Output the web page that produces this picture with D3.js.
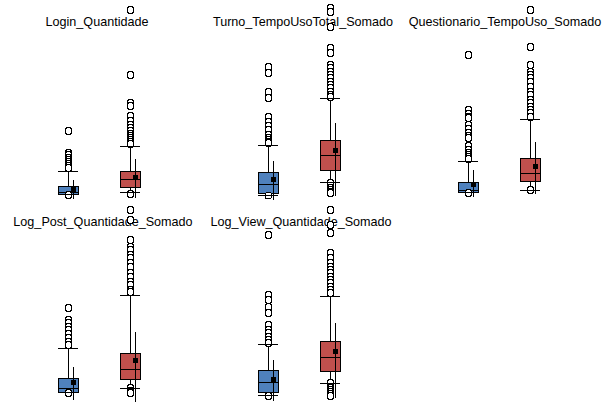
<!DOCTYPE html>
<html><head><meta charset="utf-8">
<script src="https://cdn.jsdelivr.net/npm/d3@7"></script>
<style>
html,body{margin:0;padding:0;background:#fff;}
svg{display:block;}
text{font-family:"Liberation Sans",Arial,sans-serif;font-size:12.6px;fill:#000;}
</style></head>
<body>
<svg id="chart" width="606" height="408"></svg>
<script>
// ---- data (value units, common scale 0..370 per panel) ----
const variables = ["Login_Quantidade","Turno_TempoUsoTotal_Somado","Questionario_TempoUso_Somado","Log_Post_Quantidade_Somado","Log_View_Quantidade_Somado"];
const groups = ["0","1"];
const groupColors = ["#4F81BD","#C0504D"];
// per variable, per group: [whiskerLow, q1, median, q3, whiskerHigh]
const boxStats = [
  [[2,2,6,18,48],[6,16,32,48,98]],
  [[0,4,22,46,100],[26,50,80,110,194]],
  [[6,6,10,26,68],[10,28,44,74,152]],
  [[6,6,14,34,94],[14,32,52,84,200]],
  [[0,6,26,50,102],[24,48,76,108,198]]
];
// per variable, per group: [mean, meanMinusSD, meanPlusSD]
const meanStats = [
  [[12,-8,30],[36,-6,72]],
  [[32,-10,68],[90,-2,144]],
  [[22,-4,50],[58,2,106]],
  [[26,-10,56],[70,-14,126]],
  [[32,-12,70],[88,-6,144]]
];
const outliers = [
  [[0,128,84,80,74,70,66,62,58,54],
   [2,370,240,184,178,158,148,140,134,128,122,118,114,110,106,102]],
  [[-1,256,244,206,194,156,146,138,130,120,114,110,106,104],
   [374,366,336,294,284,260,254,246,240,234,226,220,214,206,200,196,24,14,10,6,4]],
  [[4,280,170,162,156,154,140,132,124,118,114,98,90,84,80,76,72],
   [10,370,296,260,246,240,234,226,216,206,200,190,184,176,170,164,156]],
  [[4,174,150,144,136,130,122,114,106,100],
   [14,8,4,370,350,310,296,290,280,274,264,256,244,236,226,220,210,206]],
  [[-2,320,200,190,176,164,140,130,124,116,110,104],
   [24,14,10,6,2,-2,370,340,324,284,274,264,256,250,244,236,230,224,216,210,204]]
];
const valueDomain = [0,370];

// ---- layout ----
const svg = d3.select("#chart");
const panelW = 200, ncol = 3;
const rows = [{top:10,bottom:195,titleY:26},{top:210,bottom:395,titleY:226}];
const titleShift = [-3, 3, 5, 3, 1];
const boxW = 20, capW = 20, meanOffset = 5, sq = 5, r = 3.5;

variables.forEach((name, i) => {
  const col = i % ncol, row = rows[Math.floor(i / ncol)];
  const x0 = col * panelW;
  const y = d3.scaleLinear().domain(valueDomain).range([row.bottom, row.top]);
  const x = d3.scalePoint().domain(groups).range([x0 + 68, x0 + 130]);
  const g = svg.append("g");

  g.append("text").attr("x", x0 + 100 + titleShift[i]).attr("y", row.titleY)
    .attr("text-anchor", "middle").text(name);

  groups.forEach((grp, j) => {
    const cx = Math.round(x(grp));
    const [wl, q1, med, q3, wh] = boxStats[i][j];
    const [mn, mlo, mhi] = meanStats[i][j];
    const gg = g.append("g").attr("shape-rendering", "crispEdges");
    // whisker line
    gg.append("line").attr("x1", cx + 0.5).attr("x2", cx + 0.5)
      .attr("y1", y(wl)).attr("y2", y(wh)).attr("stroke", "#000");
    // box
    gg.append("rect").attr("x", cx - boxW / 2 + 0.5).attr("width", boxW)
      .attr("y", y(q3)).attr("height", y(q1) - y(q3))
      .attr("fill", groupColors[j]).attr("stroke", "#000");
    gg.append("line").attr("x1", cx - boxW / 2).attr("x2", cx + boxW / 2)
      .attr("y1", y(med)).attr("y2", y(med)).attr("stroke", "#000");
    // outliers
    g.append("g").attr("shape-rendering", "crispEdges")
      .selectAll("circle").data(outliers[i][j]).join("circle")
      .attr("cx", cx + 0.5).attr("cy", d => y(d)).attr("r", r)
      .attr("fill", "#fff").attr("stroke", "#000").attr("stroke-width", 1);
    // caps
    const gc = g.append("g").attr("shape-rendering", "crispEdges");
    [wl, wh].forEach(v => {
      gc.append("line").attr("x1", cx - capW / 2).attr("x2", cx + capW / 2)
        .attr("y1", y(v)).attr("y2", y(v)).attr("stroke", "#000");
    });
    // mean +/- sd line and mean marker
    const mx = cx + meanOffset;
    gc.append("line").attr("x1", mx + 0.5).attr("x2", mx + 0.5)
      .attr("y1", y(mlo)).attr("y2", y(mhi)).attr("stroke", "#000");
    gc.append("rect").attr("x", mx - 2).attr("y", y(mn) - sq / 2)
      .attr("width", sq).attr("height", sq).attr("fill", "#000");
  });
});
</script>
</body></html>
